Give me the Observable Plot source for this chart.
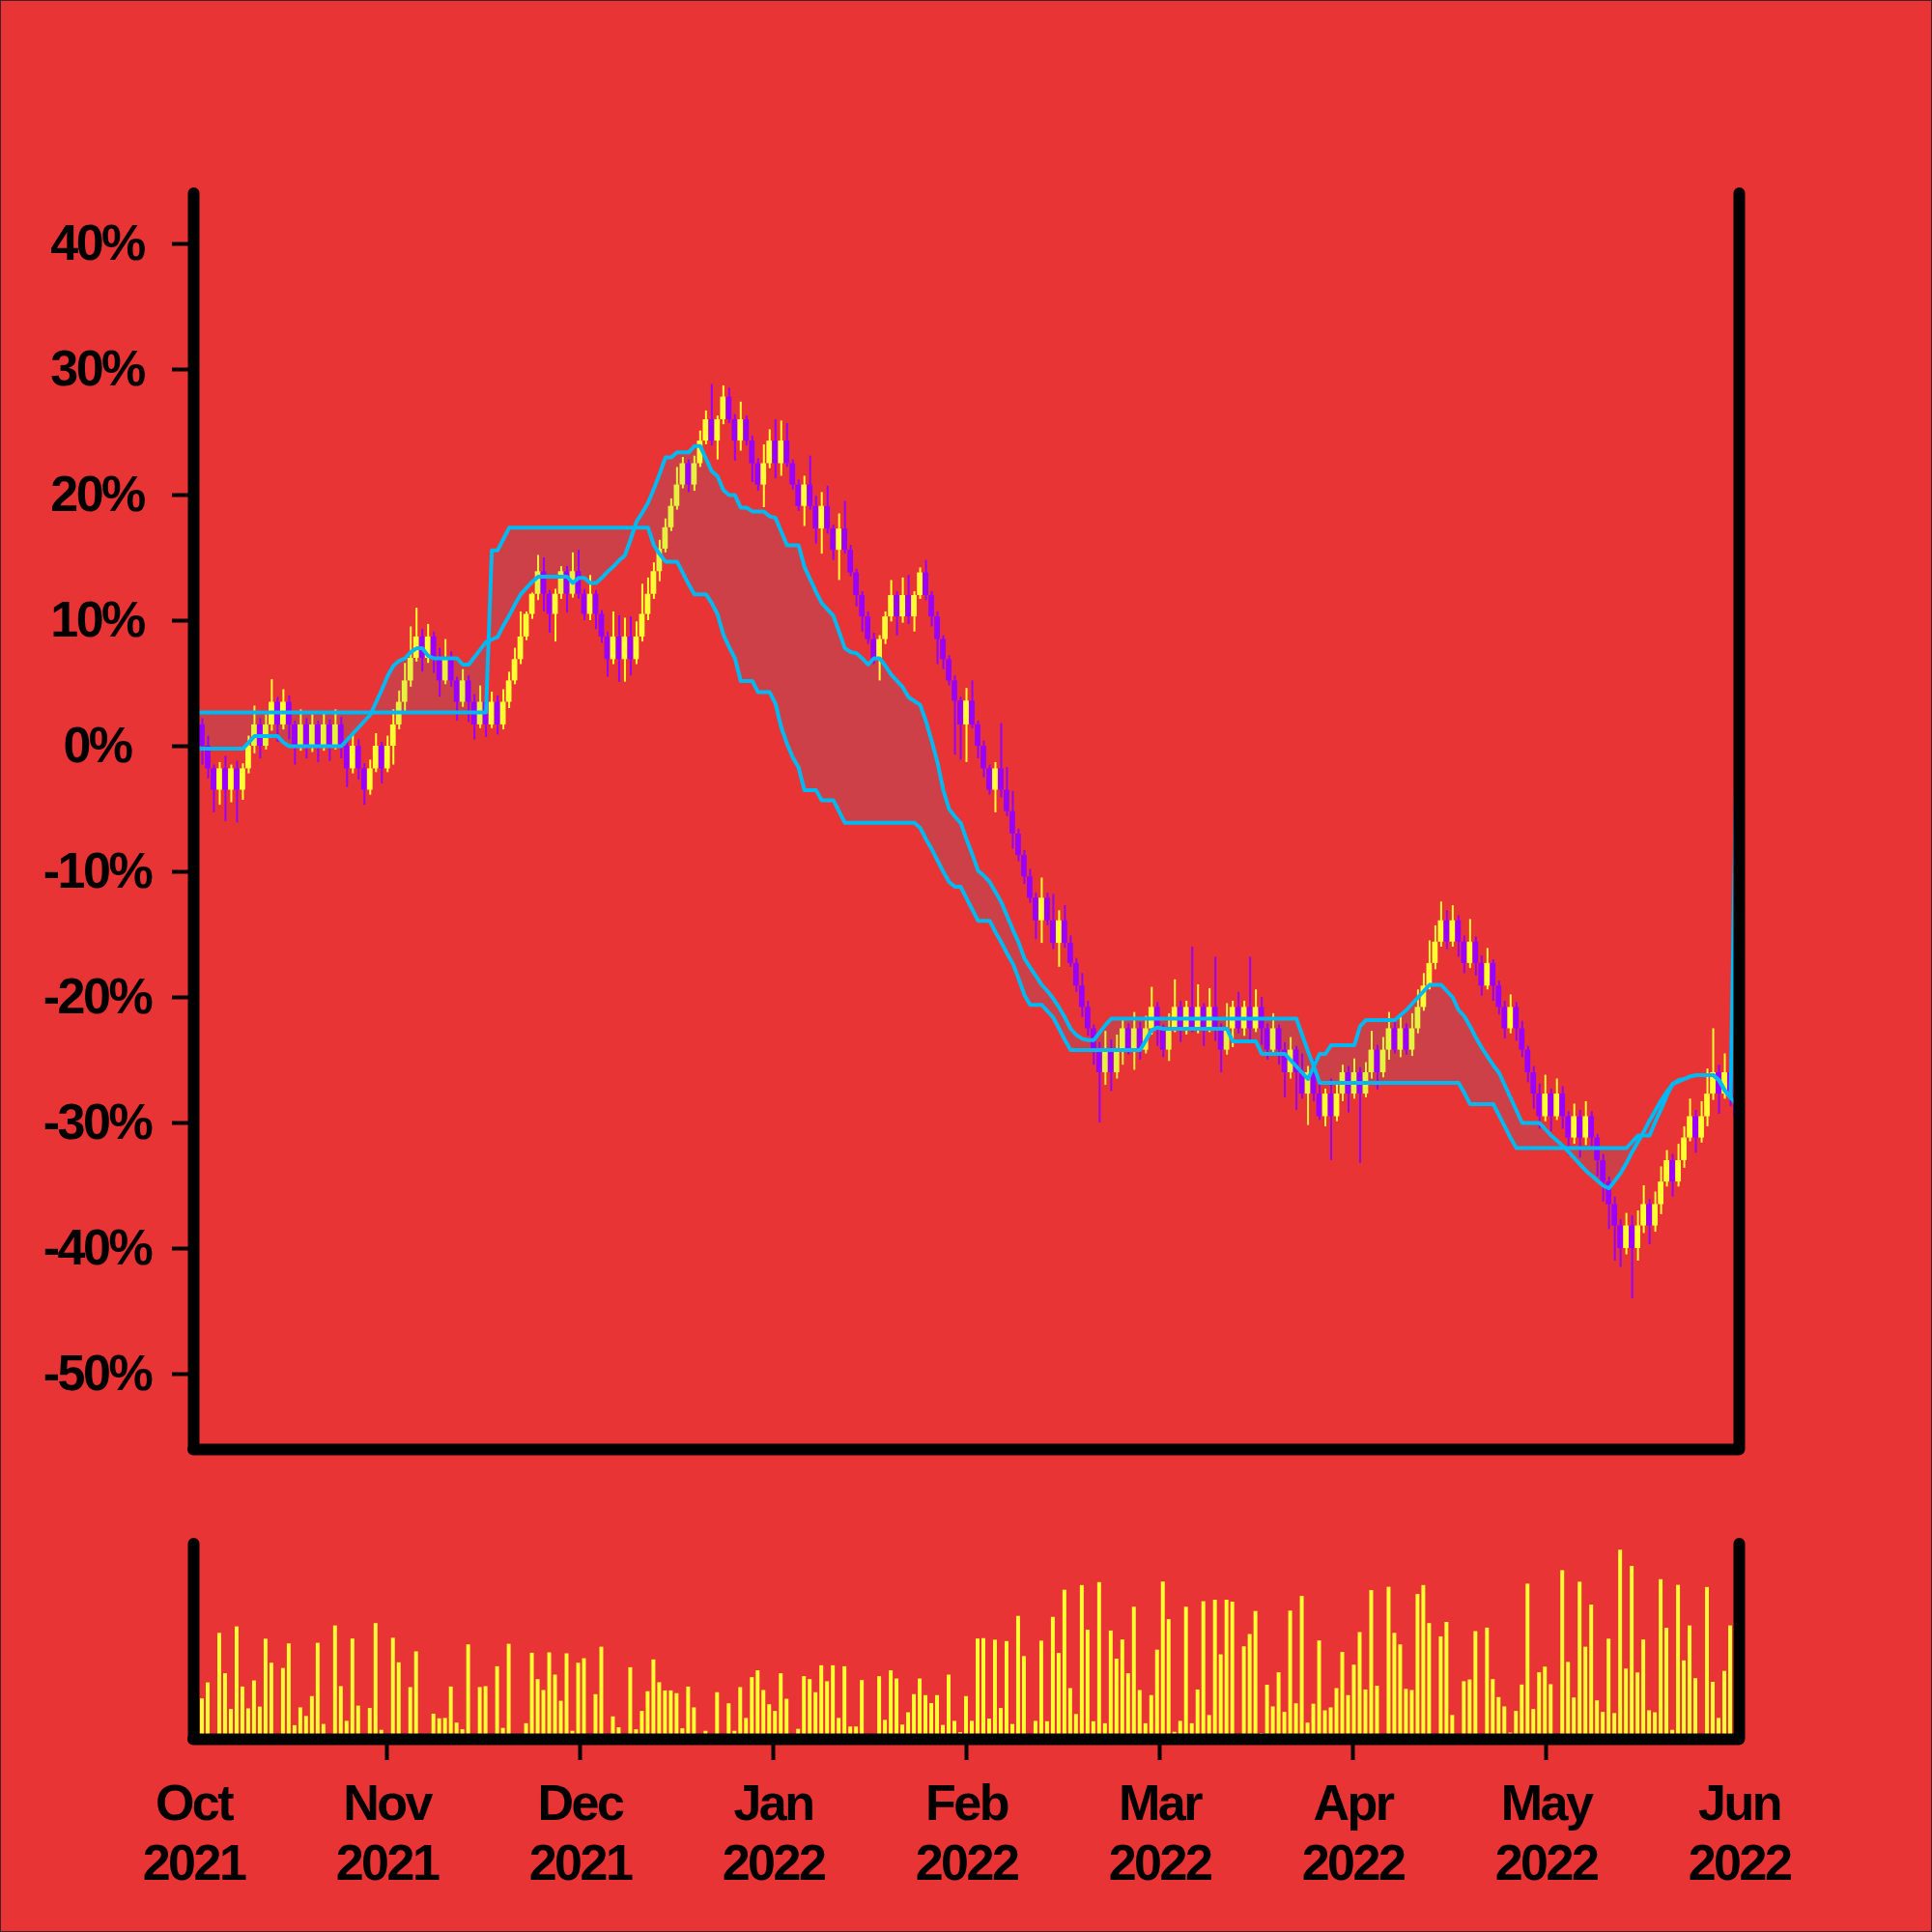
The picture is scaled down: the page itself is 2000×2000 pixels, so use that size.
<!DOCTYPE html>
<html>
<head>
<meta charset="utf-8">
<script src="https://cdn.jsdelivr.net/npm/d3@7"></script>
<script src="https://cdn.jsdelivr.net/npm/@observablehq/plot@0.6"></script>
<style>
html,body{margin:0;padding:0;background:#e83434;}
#wrap{position:relative;width:2000px;height:2000px;background:#e83434;overflow:hidden;}
#wrap svg{display:block;}
#edge{position:absolute;left:0;top:0;width:2000px;height:2000px;box-sizing:border-box;border:1px solid #4a1f1f;pointer-events:none;}
</style>
</head>
<body>
<div id="wrap"><div id="charts"></div><div id="edge"></div></div>
<script>
// ---- data (percent change), one entry per session ----
const firstOpen = 0;
const close = [
1.7,0,-1.8,-3.5,-1.8,-3.5,-1.8,-3.5,-1.8,0,
1.7,0,1.7,3.5,1.7,3.5,1.7,0,1.7,0,
1.7,0,1.7,0,1.7,0,-1.8,0,-1.8,-3.5,
-1.8,0,-1.8,0,1.7,3.5,5.2,7.0,8.7,7.0,
8.7,7.0,5.2,7.0,5.2,3.5,5.2,3.5,1.7,3.5,
1.7,3.5,1.7,3.5,5.2,6.9,8.7,10.5,12.1,13.9,
12.1,10.5,12.1,13.9,12.1,13.9,12.1,10.5,12.1,10.5,
8.7,6.9,8.7,6.9,8.7,6.9,8.7,10.5,12.1,13.9,
15.7,17.4,19.1,20.8,22.5,20.8,22.5,24.3,26.0,24.3,
26.0,27.8,26.0,24.3,26.0,24.3,22.5,20.8,22.5,24.3,
22.5,24.3,22.5,20.8,19.1,20.8,19.1,17.3,19.1,17.3,
15.6,17.3,15.6,13.8,12.0,10.3,8.5,6.9,8.5,10.3,
12.0,10.3,12.0,10.3,12.0,13.8,12.0,10.3,8.5,6.9,
5.2,3.6,1.7,3.6,1.7,0.0,-1.8,-3.5,-1.8,-3.5,
-5.2,-7.0,-8.7,-10.4,-12.1,-13.9,-12.1,-13.9,-15.7,-13.9,
-15.7,-17.3,-19.1,-20.8,-22.5,-24.2,-26.0,-24.2,-26.0,-24.2,
-22.5,-24.2,-22.5,-24.2,-22.5,-20.8,-22.5,-24.2,-22.5,-20.8,
-22.5,-20.8,-22.5,-20.8,-22.5,-20.8,-22.5,-24.2,-22.5,-20.8,
-22.5,-20.8,-22.5,-20.8,-22.5,-24.2,-22.5,-24.2,-26.0,-24.2,
-26.0,-27.7,-26.0,-27.7,-29.5,-27.7,-29.5,-27.7,-26.0,-27.7,
-26.0,-27.7,-26.0,-24.2,-26.0,-24.2,-22.5,-24.2,-22.5,-24.2,
-22.5,-20.8,-19.1,-17.3,-15.6,-13.9,-15.6,-13.9,-15.6,-17.3,
-15.6,-17.3,-19.1,-17.3,-19.1,-20.8,-22.5,-20.8,-22.5,-24.2,
-26.0,-27.7,-29.5,-27.7,-29.5,-27.7,-29.5,-31.2,-29.5,-31.2,
-29.5,-31.2,-33.0,-34.7,-36.5,-38.2,-40.0,-38.2,-40.0,-38.2,
-36.5,-38.2,-36.5,-34.7,-33.0,-34.7,-33.0,-31.2,-29.5,-31.2,
-29.5,-27.7,-26.0,-27.7,-26.0,-27.7,-29.5];
// wick length above the body / below the body (percent points)
const wickUp = [
1.2,0.5,0.8,0.3,0.5,1.0,0.3,0.6,0.4,0.8,
1.5,0.5,0.8,1.8,0.4,1.0,0.5,0.3,1.2,0.5,
0.8,0.3,1.0,0.4,1.2,0.6,0.3,0.9,0.5,0.4,
0.7,1.0,0.3,0.8,1.2,0.9,1.4,2.5,2.3,0.6,
1.0,0.4,0.8,1.5,0.5,0.3,0.9,0.4,0.6,1.3,
0.4,0.8,0.5,1.0,0.7,0.9,2.0,0.2,0.1,1.3,
1.1,0.3,0.4,0.4,0.4,1.5,1.7,0.4,1.5,0.3,
0.3,0.4,2.0,1.7,1.5,1.6,1.2,2.4,1.3,0.7,
0.7,0.7,0.6,1.4,0.5,0.3,0.6,0.8,0.7,2.8,
0.3,0.9,0.7,0.4,1.4,0.3,0.4,0.4,1.5,0.9,
1.7,1.6,1.4,0.3,0.4,0.7,2.3,0.8,1.1,1.6,
0.3,1.2,2.2,0.4,0.3,0.3,0.4,0.5,0.3,0.4,
1.2,0.3,1.4,1.6,0.3,0.4,1.0,0.3,0.4,0.3,
0.3,0.4,0.3,1.0,1.6,0.3,0.4,0.3,0.5,3.6,
1.8,1.6,0.4,0.4,0.6,0.4,1.6,0.4,2.1,0.8,
1.2,0.6,0.4,1.0,0.5,0.3,0.6,1.5,0.8,1.2,
0.8,0.4,1.3,0.5,1.0,1.6,0.4,0.3,1.2,2.2,
0.5,0.5,4.8,1.8,0.3,1.5,4.0,0.4,2.0,0.5,
1.2,0.5,4.0,1.4,0.8,0.4,1.2,0.3,0.6,1.0,
0.3,1.5,0.5,1.0,0.8,0.4,1.2,1.0,0.6,0.5,
1.1,0.4,0.8,1.5,0.4,1.0,1.3,0.5,1.0,0.4,
1.2,1.4,1.0,1.8,1.3,1.5,0.8,1.2,0.4,0.5,
1.8,0.4,0.6,1.2,0.3,0.4,0.5,1.0,0.4,0.6,
0.3,0.5,0.8,1.5,0.4,1.2,0.6,0.4,1.0,0.5,
1.2,0.4,0.3,0.5,0.4,0.6,0.5,1.0,0.8,1.2,
1.5,0.4,1.0,1.2,0.8,0.5,1.3,0.9,1.4,0.5,
1.2,2.0,3.5,0.6,1.5,2.5,0.8];
const wickDown = [
0.5,1.5,0.8,1.8,1.2,2.5,1.0,2.6,0.8,0.4,
0.6,1.0,0.3,0.5,1.4,0.4,1.2,1.5,0.4,1.0,
0.5,1.3,0.4,1.2,0.3,1.0,1.5,0.4,0.9,1.2,
0.4,0.3,1.2,0.3,1.5,0.4,0.8,0.5,0.3,1.1,
0.4,1.2,1.3,0.3,0.5,1.5,0.4,1.6,1.2,0.3,
1.0,0.3,0.8,0.4,0.5,0.3,0.4,0.3,0.4,0.5,
1.4,1.5,2.2,0.4,1.5,0.3,0.4,0.5,0.5,1.2,
0.5,1.4,0.4,1.8,1.8,1.3,0.4,0.4,0.5,0.4,
0.8,0.3,0.3,0.3,0.3,0.6,0.5,0.3,0.3,0.4,
1.5,0.4,0.3,1.6,0.8,0.4,1.5,0.5,1.8,0.4,
1.2,1.0,0.3,0.4,0.4,1.6,0.3,1.2,2.0,0.4,
0.8,2.4,0.3,0.3,0.9,1.2,0.4,0.4,1.7,0.4,
0.4,1.5,0.5,0.6,1.2,0.3,0.4,0.8,2.0,0.8,
0.4,4.3,2.8,3.0,0.3,1.0,0.7,0.4,1.8,0.6,
0.4,1.2,0.5,0.6,0.4,1.5,1.8,0.4,0.5,1.9,
0.4,0.3,0.5,0.8,0.6,1.2,4.0,1.0,1.5,0.5,
1.2,0.4,1.6,0.8,0.3,0.5,1.4,0.6,0.9,0.3,
1.1,0.5,0.3,0.4,1.4,0.3,1.0,1.8,0.4,1.5,
0.4,0.6,1.2,0.3,1.3,0.8,0.4,1.2,2.0,0.5,
3.0,0.4,2.5,0.6,0.3,0.8,3.5,0.4,0.6,1.5,
0.4,5.5,0.3,0.5,1.4,0.4,0.8,0.3,0.6,0.4,
0.5,0.4,0.3,0.3,0.5,0.4,0.6,0.4,1.2,0.8,
0.4,1.0,0.8,0.3,1.2,0.6,0.8,0.4,1.0,0.6,
0.8,1.2,1.0,0.4,1.2,0.3,1.0,1.4,0.5,1.6,
0.6,1.0,1.3,1.6,2.0,2.8,1.5,0.5,4.0,1.0,
0.6,1.5,0.5,0.8,0.4,1.2,0.4,0.6,0.3,1.2,
0.4,0.8,0.5,1.6,0.4,1.0,0.5];
// cloud boundary lines
const spanA = [
-0.2,-0.2,-0.2,-0.2,-0.2,-0.2,-0.2,-0.2,-0.2,0.3,
0.8,0.8,0.8,0.8,0.8,0.3,0,0,0,0,
0,0,0,0,0,0,0.5,1.0,1.5,2.0,
2.5,3.5,4.5,5.6,6.4,6.8,7.0,7.5,7.8,7.8,
7.2,7.0,7.0,7.0,7.0,7.0,6.5,6.5,7.1,7.7,
8.3,8.5,8.7,9.6,10.4,11.3,12.1,12.6,13.1,13.5,
13.5,13.5,13.5,13.5,13.5,13.0,13.4,13.4,13.0,13.0,
13.4,13.9,14.3,14.8,15.2,16.5,17.9,18.6,19.4,20.5,
21.7,23.0,23.0,23.4,23.4,23.4,23.9,23.9,22.9,21.9,
21.5,20.4,20.0,20.0,19.0,19.0,18.7,18.7,18.7,18.3,
18.2,17.1,16.0,16.0,16.0,14.3,13.3,12.3,11.4,10.9,
10.4,9.1,7.8,7.5,7.4,7.0,6.5,7.0,7.0,6.4,
5.7,5.2,4.7,3.9,3.6,3.3,2.0,0.4,-1.3,-3.5,
-5.0,-5.6,-6.1,-7.4,-8.6,-9.9,-10.3,-10.8,-11.6,-12.4,
-13.5,-14.6,-15.6,-16.9,-17.6,-18.3,-19.0,-19.5,-20.1,-20.8,
-21.6,-22.5,-23.0,-23.3,-23.4,-23.4,-22.8,-22.2,-21.7,-21.7,
-21.7,-21.7,-21.7,-21.7,-21.7,-21.7,-21.7,-21.7,-21.7,-21.7,
-21.7,-21.7,-21.7,-21.7,-21.7,-21.7,-21.7,-21.7,-21.7,-21.7,
-21.7,-21.7,-21.7,-21.7,-21.7,-21.7,-21.7,-21.7,-21.7,-21.7,
-21.7,-23.0,-24.3,-25.5,-26.8,-26.8,-26.8,-26.8,-26.8,-26.8,
-26.8,-26.8,-26.8,-26.8,-26.8,-26.8,-26.8,-26.8,-26.8,-26.8,
-26.8,-26.8,-26.8,-26.8,-26.8,-26.8,-26.8,-26.8,-26.8,-27.6,
-28.5,-28.5,-28.5,-28.5,-28.5,-29.4,-30.3,-31.2,-32.0,-32.0,
-32.0,-32.0,-32.0,-32.0,-32.0,-32.0,-32.0,-32.0,-32.0,-32.0,
-32.0,-32.0,-32.0,-32.0,-32.0,-32.0,-32.0,-32.0,-31.5,-31.0,
-31.0,-31.0,-29.9,-28.9,-27.8,-26.9,-26.7,-26.5,-26.3,-26.2,
-26.2,-26.2,-26.2,-26.6,-27.4,-28.0,-0.9];
const spanB = [
2.7,2.7,2.7,2.7,2.7,2.7,2.7,2.7,2.7,2.7,
2.7,2.7,2.7,2.7,2.7,2.7,2.7,2.7,2.7,2.7,
2.7,2.7,2.7,2.7,2.7,2.7,2.7,2.7,2.7,2.7,
2.7,2.7,2.7,2.7,2.7,2.7,2.7,2.7,2.7,2.7,
2.7,2.7,2.7,2.7,2.7,2.7,2.7,2.7,2.7,2.7,
2.7,15.6,15.6,16.5,17.4,17.4,17.4,17.4,17.4,17.4,
17.4,17.4,17.4,17.4,17.4,17.4,17.4,17.4,17.4,17.4,
17.4,17.4,17.4,17.4,17.4,17.4,17.4,17.4,17.4,16.0,
15.3,14.7,14.7,14.7,13.8,12.9,12.1,12.1,12.1,11.4,
10.5,8.9,7.9,7.0,5.2,5.2,5.2,4.3,4.3,4.3,
3.4,1.5,0.2,-0.9,-1.7,-3.5,-3.5,-3.5,-4.3,-4.3,
-4.3,-5.2,-6.1,-6.1,-6.1,-6.1,-6.1,-6.1,-6.1,-6.1,
-6.1,-6.1,-6.1,-6.1,-6.1,-6.5,-7.4,-8.2,-9.1,-10.0,
-10.8,-11.2,-11.2,-12.1,-13.0,-13.9,-13.9,-13.9,-14.8,-15.6,
-16.5,-17.3,-18.5,-19.8,-20.6,-20.6,-20.6,-21.1,-21.6,-22.5,
-23.4,-24.2,-24.2,-24.2,-24.2,-24.2,-24.2,-24.2,-24.2,-24.2,
-24.2,-24.2,-24.2,-24.2,-23.4,-22.6,-22.4,-22.5,-22.5,-22.5,
-22.5,-22.5,-22.5,-22.5,-22.5,-22.5,-22.5,-22.5,-22.5,-23.5,
-23.5,-23.5,-23.5,-23.5,-24.5,-24.5,-24.5,-24.5,-24.5,-25.0,
-25.5,-26.0,-26.5,-25.5,-24.5,-24.5,-23.8,-23.8,-23.8,-23.8,
-23.8,-22.3,-21.8,-21.8,-21.8,-21.8,-21.8,-21.8,-21.4,-21.0,
-20.5,-20.0,-19.5,-19.0,-19.0,-19.0,-19.5,-20.0,-21.0,-21.5,
-22.3,-23.2,-24.0,-24.7,-25.4,-26.0,-27.0,-28.0,-29.0,-30.0,
-30.0,-30.0,-30.0,-30.5,-31.0,-31.4,-31.8,-32.3,-32.8,-33.3,
-33.8,-34.2,-34.6,-35.0,-35.2,-34.6,-34.0,-33.2,-32.3,-31.5,
-30.7,-29.8,-29.0,-28.2,-27.5,-26.9,-26.6,-26.5,-26.3,-26.2,
-26.2,-26.2,-26.2,-26.6,-27.4,-28.0,-28.5];
const volume = [
0,20.7,28.9,0,54.3,33.6,15.3,57.6,26.8,15.6,
29.9,16.5,51.3,39.0,2.4,36.3,48.9,7.0,16.1,11.7,
21.9,49.2,7.6,2.5,58.1,27.0,9.2,51.4,17.0,0,
15.8,59.3,4.6,2.0,51.8,39.2,2.4,26.5,44.8,0,
0,12.9,10.5,10.7,26.8,8.3,4.9,48.4,0,26.5,
27.0,1.0,37.2,5.6,48.7,2.5,0.5,8.0,44.1,30.6,
25.0,44.3,32.9,19.5,43.8,4.1,39.0,41.3,0,22.9,
47.2,0,11.5,5.9,1.5,36.7,4.9,14.3,24.4,40.7,
29.0,24.8,24.8,23.4,5.4,26.8,16.1,0,4.1,0,
23.9,0.5,18.2,4.1,26.5,10.7,31.6,35.1,25.0,17.7,
14.3,33.6,20.5,0,5.1,32.1,30.6,23.9,37.7,29.5,
37.7,10.7,37.2,6.3,6.3,30.1,0.7,0,32.1,9.7,
35.1,30.9,7.3,13.6,22.9,30.9,22.4,18.3,22.4,7.1,
32.9,9.2,3.4,21.9,9.2,51.4,51.6,10.4,50.8,15.8,
50.1,7.6,63.0,42.4,0.5,9.2,50.3,9.0,62.5,44.0,
76.4,26.0,12.7,78.8,55.9,9.0,80.3,8.0,55.5,41.1,
50.9,33.6,67.7,25.0,8.0,22.4,45.7,80.6,61.3,3.6,
9.2,67.7,8.0,25.3,70.5,12.2,71.3,43.3,71.3,70.3,
2.5,47.4,53.7,65.5,2.9,27.7,16.6,34.1,13.8,65.7,
18.2,73.2,8.3,18.0,50.4,14.6,16.1,26.0,44.5,22.4,
38.0,54.7,25.3,76.2,27.2,0,77.9,54.3,48.4,25.6,
25.0,74.2,78.8,59.3,0,52.5,59.9,12.2,0,29.5,
30.4,55.2,0,57.0,30.6,21.4,16.6,3.2,14.3,27.8,
79.5,15.3,34.1,37.0,28.0,0,86.4,39.4,21.2,80.5,
47.2,68.8,19.7,13.8,51.3,13.2,96.9,36.0,88.6,34.0,
50.9,14.6,13.6,81.8,56.9,4.6,78.9,40.2,58.1,31.1,
0,77.8,29.2,10.7,34.8,58.1,0];
const yTicks = [-50,-40,-30,-20,-10,0,10,20,30,40];
const monthLabels = ["Oct\n2021","Nov\n2021","Dec\n2021","Jan\n2022","Feb\n2022","Mar\n2022","Apr\n2022","May\n2022","Jun\n2022"];

// ---- build table ----
const N = close.length;
const rows = close.map((c, i) => {
  const o = i === 0 ? firstOpen : close[i - 1];
  return {i, o, c, h: Math.max(o, c) + wickUp[i], l: Math.min(o, c) - wickDown[i],
          a: spanA[i], b: spanB[i], v: volume[i]};
});
const BG = "#e83434", YEL = "#ffff33", PALE = "#e6f23e", PUR = "#9900ff", CYAN = "#00b9f2", CLOUD = "#cd4048";
const candleColor = d => d.c < d.o ? PUR
  : (d.c >= Math.min(d.a, d.b) && d.c <= Math.max(d.a, d.b) ? PALE : YEL);
const font = {fontFamily: "'Liberation Sans', Arial, sans-serif", fontWeight: "bold", fontSize: "52px", letterSpacing: "-2.5px", background: BG, overflow: "visible"};
const mid = d => d.i + 0.5;

const main = Plot.plot({
  width: 2000, height: 1560,
  marginTop: 200, marginBottom: 60, marginLeft: 200, marginRight: 200,
  style: font,
  x: {domain: [0, N], axis: null},
  y: {domain: [-56, 44], axis: null},
  marks: [
    Plot.areaY(rows, {x: mid, y1: "a", y2: "b", fill: CLOUD}),
    Plot.ruleX(rows, {x: mid, y1: "l", y2: "h", stroke: candleColor, strokeWidth: 2}),
    Plot.rectY(rows, {x1: d => d.i + 0.02, x2: d => d.i + 0.98, y1: "o", y2: "c", fill: candleColor}),
    Plot.line(rows, {x: mid, y: "a", stroke: CYAN, strokeWidth: 4}),
    Plot.line(rows, {x: mid, y: "b", stroke: CYAN, strokeWidth: 4}),
    Plot.axisY(yTicks, {anchor: "left", tickSize: 22, tickPadding: 78, textAnchor: "middle",
      tickFormat: d => `${d}%`, stroke: "black", strokeWidth: 4, fill: "black"}),
    Plot.ruleX([0, N], {stroke: "black", strokeWidth: 12, strokeLinecap: "round"}),
    Plot.ruleY([-56], {stroke: "black", strokeWidth: 12, strokeLinecap: "round"})
  ]
});

const monthPos = monthLabels.map((_, k) => N * k / (monthLabels.length - 1));
const vol = Plot.plot({
  width: 2000, height: 440,
  marginTop: 38, marginBottom: 200, marginLeft: 200, marginRight: 200,
  style: font,
  x: {domain: [0, N], axis: null},
  y: {domain: [0, 100], axis: null},
  marks: [
    Plot.rectY(rows, {x1: d => d.i + 0.17, x2: d => d.i + 0.83, y: "v", fill: YEL}),
    Plot.axisX(monthPos.slice(1, -1), {anchor: "bottom", tickSize: 22, strokeWidth: 4, tickFormat: () => ""}),
    Plot.axisX(monthPos, {anchor: "bottom", tickSize: 0, tickPadding: 39,
      tickFormat: (d, k) => monthLabels[k], lineHeight: 1.2, fill: "black"}),
    Plot.ruleX([0, N], {stroke: "black", strokeWidth: 12, strokeLinecap: "round"}),
    Plot.ruleY([0], {stroke: "black", strokeWidth: 12, strokeLinecap: "round"})
  ]
});

const host = document.getElementById("charts");
host.appendChild(main);
host.appendChild(vol);
</script>
</body>
</html>
